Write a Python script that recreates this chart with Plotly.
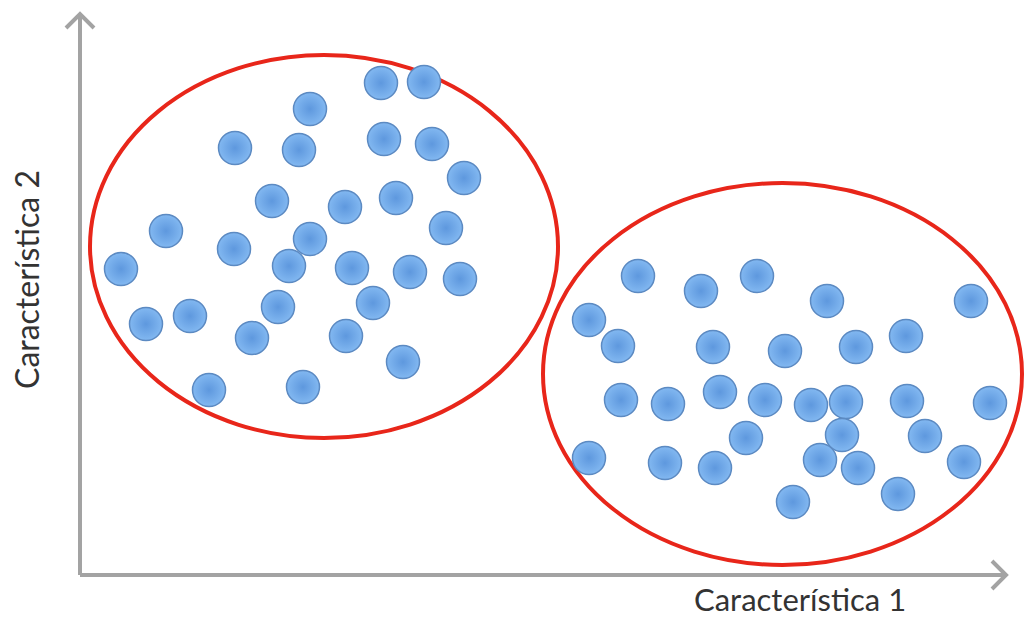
import plotly.graph_objects as go

# Cluster A (upper-left) feature values
a_x = [381, 424, 310, 235, 299, 384, 432, 464, 272, 345, 396, 166, 446, 310, 234,
       121, 289, 352, 410, 460, 146, 190, 278, 373, 252, 346, 403, 209, 303]
a_y_px = [83, 82, 109, 148, 150, 139, 144, 178, 201, 207, 198, 231, 228, 239, 249,
          269, 266, 268, 272, 279, 324, 316, 307, 303, 338, 336, 362, 390, 387]

# Cluster B (lower-right) feature values
b_x = [638, 701, 757, 827, 971, 589, 618, 713, 785, 856, 906, 621, 668, 720, 765,
       811, 846, 907, 990, 746, 842, 925, 589, 665, 715, 820, 858, 964, 793, 898]
b_y_px = [276, 291, 276, 301, 301, 320, 346, 347, 351, 347, 336, 400, 404, 392, 400,
          405, 402, 401, 403, 438, 435, 436, 458, 463, 468, 460, 468, 462, 502, 494]

H = 618
a_y = [H - v for v in a_y_px]
b_y = [H - v for v in b_y_px]

x_label = "Característica 1"
y_label = "Característica 2"

fig = go.Figure()

marker = dict(
    size=33,
    color="#82b8f1",
    line=dict(color="#5c8ac2", width=1.5),
    gradient=dict(type="radial", color="#5e98de"),
)
fig.add_trace(go.Scatter(x=a_x, y=a_y, mode="markers", marker=marker, showlegend=False,
                         hoverinfo="skip"))
fig.add_trace(go.Scatter(x=b_x, y=b_y, mode="markers", marker=marker, showlegend=False,
                         hoverinfo="skip"))

red = "#e8261a"
# cluster outlines
fig.add_shape(type="circle", xref="x", yref="y", x0=90, x1=558, y0=H - 438, y1=H - 55,
              line=dict(color=red, width=4), layer="below")
fig.add_shape(type="circle", xref="x", yref="y", x0=543, x1=1022, y0=H - 565, y1=H - 183,
              line=dict(color=red, width=4), layer="below")

grey = "#a3a3a3"
# axes with open arrowheads
fig.add_shape(type="path", xref="x", yref="y",
              path=f"M 80 {H-575} L 80 {H-16} M 66 {H-28} L 80 {H-14} L 94 {H-28}",
              line=dict(color=grey, width=4))
fig.add_shape(type="path", xref="x", yref="y",
              path=f"M 80 {H-575} L 1004 {H-575} M 992 {H-561} L 1006 {H-575} L 992 {H-589}",
              line=dict(color=grey, width=4))

fig.add_annotation(x=800, y=H - 599, xref="x", yref="y", text=x_label, showarrow=False,
                   font=dict(family="Lato", size=31, color="#333333"))
fig.add_annotation(x=26, y=H - 280, xref="x", yref="y", text=y_label, showarrow=False,
                   textangle=-90, font=dict(family="Lato", size=32, color="#333333"))

fig.update_layout(
    width=1025, height=618,
    margin=dict(l=0, r=0, t=0, b=0),
    paper_bgcolor="white", plot_bgcolor="white",
    xaxis=dict(range=[0, 1025], visible=False, fixedrange=True),
    yaxis=dict(range=[0, 618], visible=False, fixedrange=True),
)

# remove the browser's default 8px body margin so the figure fills the window
fig.write_html("out.html", config={"displayModeBar": False},
               post_script="document.body.style.margin='0';")
